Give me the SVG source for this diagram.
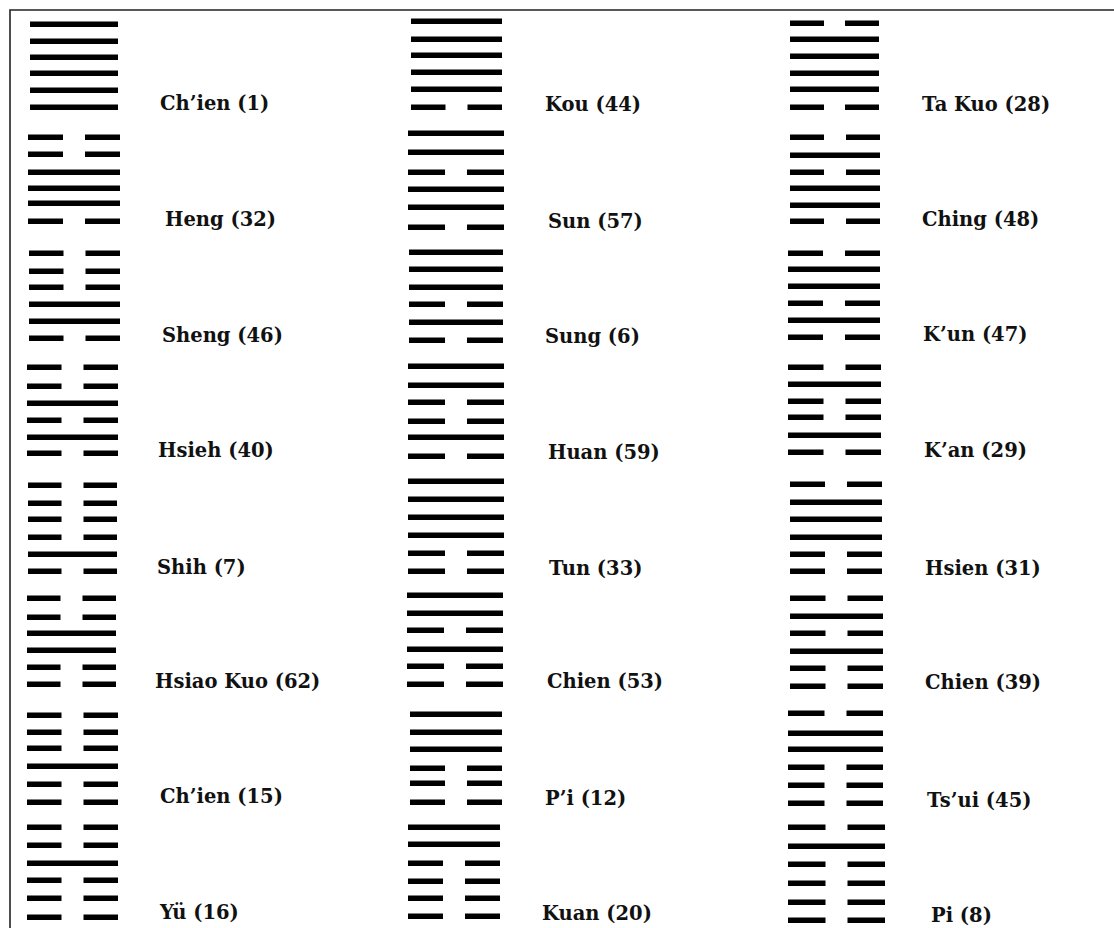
<svg xmlns="http://www.w3.org/2000/svg" width="1114" height="928" viewBox="0 0 1114 928">
<style>
.l{fill:#000}
.t{font-family:"DejaVu Serif","Liberation Serif",serif;font-weight:bold;font-size:19.5px;fill:#111}
</style>
<rect x="0" y="0" width="1114" height="928" fill="#fff"/>
<path d="M10,928 V10 H1114" fill="none" stroke="#222" stroke-width="1.6"/>

<!-- Column 1 -->
<g id="chien1">
<rect class="l" x="30" y="21.5" width="88" height="5.5"/>
<rect class="l" x="30" y="38.5" width="88" height="5.5"/>
<rect class="l" x="30" y="54.5" width="88" height="5.5"/>
<rect class="l" x="30" y="70.5" width="88" height="5.5"/>
<rect class="l" x="30" y="87.5" width="88" height="5.5"/>
<rect class="l" x="30" y="104.5" width="88" height="5.5"/>
<text class="t" x="160" y="110">Ch’ien (1)</text>
</g>
<g id="heng32">
<rect class="l" x="28" y="134.5" width="35" height="5.5"/><rect class="l" x="85" y="134.5" width="35" height="5.5"/>
<rect class="l" x="28" y="151.5" width="35" height="5.5"/><rect class="l" x="85" y="151.5" width="35" height="5.5"/>
<rect class="l" x="28" y="169.5" width="92" height="5.5"/>
<rect class="l" x="28" y="185.5" width="92" height="5.5"/>
<rect class="l" x="28" y="200.5" width="92" height="5.5"/>
<rect class="l" x="28" y="218.5" width="35" height="5.5"/><rect class="l" x="85" y="218.5" width="35" height="5.5"/>
<text class="t" x="165" y="226">Heng (32)</text>
</g>
<g id="sheng46">
<rect class="l" x="29" y="250.5" width="34.5" height="5.5"/><rect class="l" x="85.5" y="250.5" width="34.5" height="5.5"/>
<rect class="l" x="29" y="268.5" width="34.5" height="5.5"/><rect class="l" x="85.5" y="268.5" width="34.5" height="5.5"/>
<rect class="l" x="29" y="284.5" width="34.5" height="5.5"/><rect class="l" x="85.5" y="284.5" width="34.5" height="5.5"/>
<rect class="l" x="29" y="301.5" width="91" height="5.5"/>
<rect class="l" x="29" y="318.5" width="91" height="5.5"/>
<rect class="l" x="29" y="335.5" width="34.5" height="5.5"/><rect class="l" x="85.5" y="335.5" width="34.5" height="5.5"/>
<text class="t" x="162" y="342">Sheng (46)</text>
</g>
<g id="hsieh40">
<rect class="l" x="27" y="364.5" width="34.5" height="5.5"/><rect class="l" x="83.5" y="364.5" width="34.5" height="5.5"/>
<rect class="l" x="27" y="383.5" width="34.5" height="5.5"/><rect class="l" x="83.5" y="383.5" width="34.5" height="5.5"/>
<rect class="l" x="27" y="400.5" width="91" height="5.5"/>
<rect class="l" x="27" y="417.5" width="34.5" height="5.5"/><rect class="l" x="83.5" y="417.5" width="34.5" height="5.5"/>
<rect class="l" x="27" y="434.5" width="91" height="5.5"/>
<rect class="l" x="27" y="450.5" width="34.5" height="5.5"/><rect class="l" x="83.5" y="450.5" width="34.5" height="5.5"/>
<text class="t" x="158" y="457">Hsieh (40)</text>
</g>
<g id="shih7">
<rect class="l" x="28" y="482.5" width="33.5" height="5.5"/><rect class="l" x="83.5" y="482.5" width="33.5" height="5.5"/>
<rect class="l" x="28" y="500.5" width="33.5" height="5.5"/><rect class="l" x="83.5" y="500.5" width="33.5" height="5.5"/>
<rect class="l" x="28" y="516.5" width="33.5" height="5.5"/><rect class="l" x="83.5" y="516.5" width="33.5" height="5.5"/>
<rect class="l" x="28" y="534.5" width="33.5" height="5.5"/><rect class="l" x="83.5" y="534.5" width="33.5" height="5.5"/>
<rect class="l" x="28" y="551.5" width="89" height="5.5"/>
<rect class="l" x="28" y="568.5" width="33.5" height="5.5"/><rect class="l" x="83.5" y="568.5" width="33.5" height="5.5"/>
<text class="t" x="157" y="574">Shih (7)</text>
</g>
<g id="hsiaokuo62">
<rect class="l" x="27" y="595.5" width="33.5" height="5.5"/><rect class="l" x="82.5" y="595.5" width="33.5" height="5.5"/>
<rect class="l" x="27" y="614.5" width="33.5" height="5.5"/><rect class="l" x="82.5" y="614.5" width="33.5" height="5.5"/>
<rect class="l" x="27" y="630.5" width="89" height="5.5"/>
<rect class="l" x="27" y="647.5" width="89" height="5.5"/>
<rect class="l" x="27" y="664.5" width="33.5" height="5.5"/><rect class="l" x="82.5" y="664.5" width="33.5" height="5.5"/>
<rect class="l" x="27" y="681.5" width="33.5" height="5.5"/><rect class="l" x="82.5" y="681.5" width="33.5" height="5.5"/>
<text class="t" x="155" y="688">Hsiao Kuo (62)</text>
</g>
<g id="chien15">
<rect class="l" x="27" y="712.5" width="34.5" height="5.5"/><rect class="l" x="83.5" y="712.5" width="34.5" height="5.5"/>
<rect class="l" x="27" y="729.5" width="34.5" height="5.5"/><rect class="l" x="83.5" y="729.5" width="34.5" height="5.5"/>
<rect class="l" x="27" y="745.5" width="34.5" height="5.5"/><rect class="l" x="83.5" y="745.5" width="34.5" height="5.5"/>
<rect class="l" x="27" y="763.5" width="91" height="5.5"/>
<rect class="l" x="27" y="781.5" width="34.5" height="5.5"/><rect class="l" x="83.5" y="781.5" width="34.5" height="5.5"/>
<rect class="l" x="27" y="799.5" width="34.5" height="5.5"/><rect class="l" x="83.5" y="799.5" width="34.5" height="5.5"/>
<text class="t" x="160" y="803">Ch’ien (15)</text>
</g>
<g id="yu16">
<rect class="l" x="27" y="824.5" width="34.5" height="5.5"/><rect class="l" x="83.5" y="824.5" width="34.5" height="5.5"/>
<rect class="l" x="27" y="842.5" width="34.5" height="5.5"/><rect class="l" x="83.5" y="842.5" width="34.5" height="5.5"/>
<rect class="l" x="27" y="860.5" width="91" height="5.5"/>
<rect class="l" x="27" y="877.5" width="34.5" height="5.5"/><rect class="l" x="83.5" y="877.5" width="34.5" height="5.5"/>
<rect class="l" x="27" y="895.5" width="34.5" height="5.5"/><rect class="l" x="83.5" y="895.5" width="34.5" height="5.5"/>
<rect class="l" x="27" y="914.5" width="34.5" height="5.5"/><rect class="l" x="83.5" y="914.5" width="34.5" height="5.5"/>
<text class="t" x="160" y="919">Yü (16)</text>
</g>

<!-- Column 2 -->
<g id="kou44">
<rect class="l" x="411" y="18.5" width="91" height="5.5"/>
<rect class="l" x="411" y="36.5" width="91" height="5.5"/>
<rect class="l" x="411" y="52.5" width="91" height="5.5"/>
<rect class="l" x="411" y="69.5" width="91" height="5.5"/>
<rect class="l" x="411" y="86.5" width="91" height="5.5"/>
<rect class="l" x="411" y="104.5" width="34.5" height="5.5"/><rect class="l" x="467.5" y="104.5" width="34.5" height="5.5"/>
<text class="t" x="545" y="111">Kou (44)</text>
</g>
<g id="sun57">
<rect class="l" x="408" y="130.5" width="96" height="5.5"/>
<rect class="l" x="408" y="149.5" width="96" height="5.5"/>
<rect class="l" x="408" y="169.5" width="37" height="5.5"/><rect class="l" x="467" y="169.5" width="37" height="5.5"/>
<rect class="l" x="408" y="186.5" width="96" height="5.5"/>
<rect class="l" x="408" y="204.5" width="96" height="5.5"/>
<rect class="l" x="408" y="224.5" width="37" height="5.5"/><rect class="l" x="467" y="224.5" width="37" height="5.5"/>
<text class="t" x="548" y="228">Sun (57)</text>
</g>
<g id="sung6">
<rect class="l" x="409" y="249.5" width="94" height="5.5"/>
<rect class="l" x="409" y="266.5" width="94" height="5.5"/>
<rect class="l" x="409" y="284.5" width="94" height="5.5"/>
<rect class="l" x="409" y="301.5" width="36" height="5.5"/><rect class="l" x="467" y="301.5" width="36" height="5.5"/>
<rect class="l" x="409" y="319.5" width="94" height="5.5"/>
<rect class="l" x="409" y="337.5" width="36" height="5.5"/><rect class="l" x="467" y="337.5" width="36" height="5.5"/>
<text class="t" x="545" y="343">Sung (6)</text>
</g>
<g id="huan59">
<rect class="l" x="408" y="363.5" width="96" height="5.5"/>
<rect class="l" x="408" y="382.5" width="96" height="5.5"/>
<rect class="l" x="408" y="399.5" width="37" height="5.5"/><rect class="l" x="467" y="399.5" width="37" height="5.5"/>
<rect class="l" x="408" y="418.5" width="37" height="5.5"/><rect class="l" x="467" y="418.5" width="37" height="5.5"/>
<rect class="l" x="408" y="434.5" width="96" height="5.5"/>
<rect class="l" x="408" y="453.5" width="37" height="5.5"/><rect class="l" x="467" y="453.5" width="37" height="5.5"/>
<text class="t" x="548" y="459">Huan (59)</text>
</g>
<g id="tun33">
<rect class="l" x="408" y="478.5" width="96" height="5.5"/>
<rect class="l" x="408" y="496.5" width="96" height="5.5"/>
<rect class="l" x="408" y="514.5" width="96" height="5.5"/>
<rect class="l" x="408" y="532.5" width="96" height="5.5"/>
<rect class="l" x="408" y="550.5" width="37" height="5.5"/><rect class="l" x="467" y="550.5" width="37" height="5.5"/>
<rect class="l" x="408" y="568.5" width="37" height="5.5"/><rect class="l" x="467" y="568.5" width="37" height="5.5"/>
<text class="t" x="549" y="575">Tun (33)</text>
</g>
<g id="chien53">
<rect class="l" x="407" y="592.5" width="96" height="5.5"/>
<rect class="l" x="407" y="610.5" width="96" height="5.5"/>
<rect class="l" x="407" y="627.5" width="37" height="5.5"/><rect class="l" x="466" y="627.5" width="37" height="5.5"/>
<rect class="l" x="407" y="646.5" width="96" height="5.5"/>
<rect class="l" x="407" y="663.5" width="37" height="5.5"/><rect class="l" x="466" y="663.5" width="37" height="5.5"/>
<rect class="l" x="407" y="681.5" width="37" height="5.5"/><rect class="l" x="466" y="681.5" width="37" height="5.5"/>
<text class="t" x="547" y="688">Chien (53)</text>
</g>
<g id="pi12">
<rect class="l" x="410" y="711.5" width="92" height="5.5"/>
<rect class="l" x="410" y="729.5" width="92" height="5.5"/>
<rect class="l" x="410" y="746.5" width="92" height="5.5"/>
<rect class="l" x="410" y="765.5" width="35" height="5.5"/><rect class="l" x="467" y="765.5" width="35" height="5.5"/>
<rect class="l" x="410" y="780.5" width="35" height="5.5"/><rect class="l" x="467" y="780.5" width="35" height="5.5"/>
<rect class="l" x="410" y="799.5" width="35" height="5.5"/><rect class="l" x="467" y="799.5" width="35" height="5.5"/>
<text class="t" x="545" y="805">P’i (12)</text>
</g>
<g id="kuan20">
<rect class="l" x="408" y="824.5" width="92" height="5.5"/>
<rect class="l" x="408" y="841.5" width="92" height="5.5"/>
<rect class="l" x="408" y="860.5" width="35" height="5.5"/><rect class="l" x="465" y="860.5" width="35" height="5.5"/>
<rect class="l" x="408" y="878.5" width="35" height="5.5"/><rect class="l" x="465" y="878.5" width="35" height="5.5"/>
<rect class="l" x="408" y="895.5" width="35" height="5.5"/><rect class="l" x="465" y="895.5" width="35" height="5.5"/>
<rect class="l" x="408" y="913.5" width="35" height="5.5"/><rect class="l" x="465" y="913.5" width="35" height="5.5"/>
<text class="t" x="542" y="920">Kuan (20)</text>
</g>

<!-- Column 3 -->
<g id="takuo28">
<rect class="l" x="790" y="20.5" width="34" height="5.5"/><rect class="l" x="845" y="20.5" width="34" height="5.5"/>
<rect class="l" x="790" y="36.5" width="89" height="5.5"/>
<rect class="l" x="790" y="53.5" width="89" height="5.5"/>
<rect class="l" x="790" y="70.5" width="89" height="5.5"/>
<rect class="l" x="790" y="86.5" width="89" height="5.5"/>
<rect class="l" x="790" y="104.5" width="34" height="5.5"/><rect class="l" x="845" y="104.5" width="34" height="5.5"/>
<text class="t" x="922" y="111">Ta Kuo (28)</text>
</g>
<g id="ching48">
<rect class="l" x="790" y="134.5" width="34" height="5.5"/><rect class="l" x="846" y="134.5" width="34" height="5.5"/>
<rect class="l" x="790" y="152.5" width="90" height="5.5"/>
<rect class="l" x="790" y="169.5" width="34" height="5.5"/><rect class="l" x="846" y="169.5" width="34" height="5.5"/>
<rect class="l" x="790" y="185.5" width="90" height="5.5"/>
<rect class="l" x="790" y="202.5" width="90" height="5.5"/>
<rect class="l" x="790" y="218.5" width="34" height="5.5"/><rect class="l" x="846" y="218.5" width="34" height="5.5"/>
<text class="t" x="922" y="226">Ching (48)</text>
</g>
<g id="kun47">
<rect class="l" x="788" y="250.5" width="35" height="5.5"/><rect class="l" x="845" y="250.5" width="35" height="5.5"/>
<rect class="l" x="788" y="266.5" width="92" height="5.5"/>
<rect class="l" x="788" y="283.5" width="92" height="5.5"/>
<rect class="l" x="788" y="300.5" width="35" height="5.5"/><rect class="l" x="845" y="300.5" width="35" height="5.5"/>
<rect class="l" x="788" y="317.5" width="92" height="5.5"/>
<rect class="l" x="788" y="334.5" width="35" height="5.5"/><rect class="l" x="845" y="334.5" width="35" height="5.5"/>
<text class="t" x="923" y="341">K’un (47)</text>
</g>
<g id="kan29">
<rect class="l" x="788" y="364.5" width="35.5" height="5.5"/><rect class="l" x="845.5" y="364.5" width="35.5" height="5.5"/>
<rect class="l" x="788" y="381.5" width="93" height="5.5"/>
<rect class="l" x="788" y="398.5" width="35.5" height="5.5"/><rect class="l" x="845.5" y="398.5" width="35.5" height="5.5"/>
<rect class="l" x="788" y="414.5" width="35.5" height="5.5"/><rect class="l" x="845.5" y="414.5" width="35.5" height="5.5"/>
<rect class="l" x="788" y="432.5" width="93" height="5.5"/>
<rect class="l" x="788" y="449.5" width="35.5" height="5.5"/><rect class="l" x="845.5" y="449.5" width="35.5" height="5.5"/>
<text class="t" x="924" y="457">K’an (29)</text>
</g>
<g id="hsien31">
<rect class="l" x="790" y="481.5" width="35" height="5.5"/><rect class="l" x="847" y="481.5" width="35" height="5.5"/>
<rect class="l" x="790" y="499.5" width="92" height="5.5"/>
<rect class="l" x="790" y="516.5" width="92" height="5.5"/>
<rect class="l" x="790" y="534.5" width="92" height="5.5"/>
<rect class="l" x="790" y="551.5" width="35" height="5.5"/><rect class="l" x="847" y="551.5" width="35" height="5.5"/>
<rect class="l" x="790" y="568.5" width="35" height="5.5"/><rect class="l" x="847" y="568.5" width="35" height="5.5"/>
<text class="t" x="925" y="575">Hsien (31)</text>
</g>
<g id="chien39">
<rect class="l" x="790" y="595.5" width="35.5" height="5.5"/><rect class="l" x="847.5" y="595.5" width="35.5" height="5.5"/>
<rect class="l" x="790" y="613.5" width="93" height="5.5"/>
<rect class="l" x="790" y="630.5" width="35.5" height="5.5"/><rect class="l" x="847.5" y="630.5" width="35.5" height="5.5"/>
<rect class="l" x="790" y="648.5" width="93" height="5.5"/>
<rect class="l" x="790" y="665.5" width="35.5" height="5.5"/><rect class="l" x="847.5" y="665.5" width="35.5" height="5.5"/>
<rect class="l" x="790" y="683.5" width="35.5" height="5.5"/><rect class="l" x="847.5" y="683.5" width="35.5" height="5.5"/>
<text class="t" x="925" y="689">Chien (39)</text>
</g>
<g id="tsui45">
<rect class="l" x="788" y="710.5" width="36.5" height="5.5"/><rect class="l" x="846.5" y="710.5" width="36.5" height="5.5"/>
<rect class="l" x="788" y="730.5" width="95" height="5.5"/>
<rect class="l" x="788" y="746.5" width="95" height="5.5"/>
<rect class="l" x="788" y="764.5" width="36.5" height="5.5"/><rect class="l" x="846.5" y="764.5" width="36.5" height="5.5"/>
<rect class="l" x="788" y="782.5" width="36.5" height="5.5"/><rect class="l" x="846.5" y="782.5" width="36.5" height="5.5"/>
<rect class="l" x="788" y="800.5" width="36.5" height="5.5"/><rect class="l" x="846.5" y="800.5" width="36.5" height="5.5"/>
<text class="t" x="927" y="807">Ts’ui (45)</text>
</g>
<g id="pi8">
<rect class="l" x="788" y="824.5" width="37.5" height="5.5"/><rect class="l" x="847.5" y="824.5" width="37.5" height="5.5"/>
<rect class="l" x="788" y="843.5" width="97" height="5.5"/>
<rect class="l" x="788" y="861.5" width="37.5" height="5.5"/><rect class="l" x="847.5" y="861.5" width="37.5" height="5.5"/>
<rect class="l" x="788" y="880.5" width="37.5" height="5.5"/><rect class="l" x="847.5" y="880.5" width="37.5" height="5.5"/>
<rect class="l" x="788" y="899.5" width="37.5" height="5.5"/><rect class="l" x="847.5" y="899.5" width="37.5" height="5.5"/>
<rect class="l" x="788" y="917.5" width="37.5" height="5.5"/><rect class="l" x="847.5" y="917.5" width="37.5" height="5.5"/>
<text class="t" x="931" y="922">Pi (8)</text>
</g>
</svg>
